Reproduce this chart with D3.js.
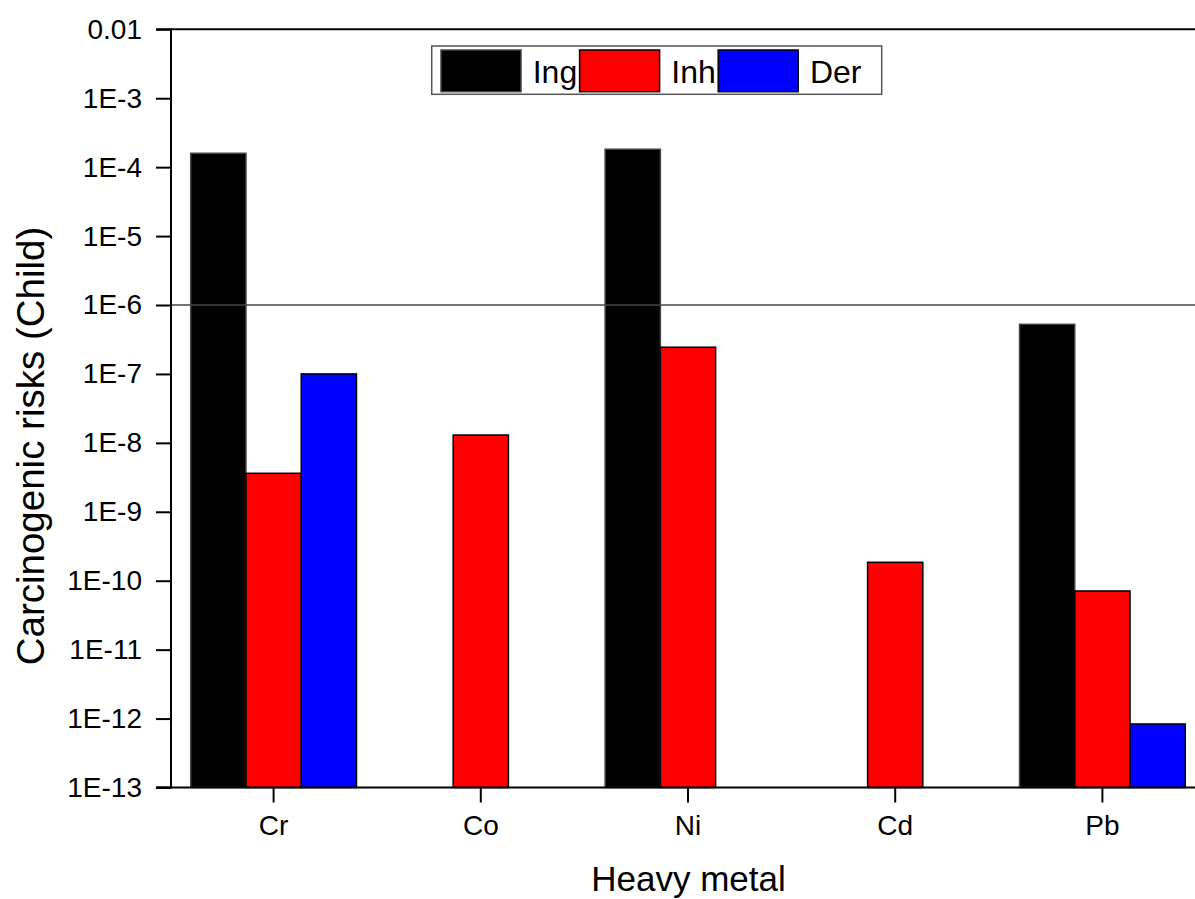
<!DOCTYPE html>
<html>
<head>
<meta charset="utf-8">
<script src="https://cdn.jsdelivr.net/npm/d3@7"></script>
<style>
  body { margin: 0; background: #fff; }
  svg { display: block; font-family: "Liberation Sans", Arial, sans-serif; }
</style>
</head>
<body>
<div id="graphicContainer"></div>
<script>
// values (child carcinogenic risk, log scale)
var metals = ["Cr", "Co", "Ni", "Cd", "Pb"];
var series = ["Ing", "Inh", "Der"];
var ingValues = [1.59e-4, null, 1.82e-4, null, 5.25e-7];
var inhValues = [3.62e-9, 1.30e-8, 2.44e-7, 1.85e-10, 7.1e-11];
var derValues = [1.0e-7, null, null, null, 8.35e-13];
var yTicks = [1e-2, 1e-3, 1e-4, 1e-5, 1e-6, 1e-7, 1e-8, 1e-9, 1e-10, 1e-11, 1e-12, 1e-13];
var refLine = 1e-6;

var colors = d3.scaleOrdinal().domain(series).range(["#000000", "#ff0000", "#0000ff"]);

var data = [];
metals.forEach(function(m, i) {
	data.push({metal: m, key: "Ing", value: ingValues[i]});
	data.push({metal: m, key: "Inh", value: inhValues[i]});
	data.push({metal: m, key: "Der", value: derValues[i]});
});
data = data.filter(d => d.value != null);

var width = 1195, height = 899;
var margin = {top: 29.3, left: 171, bottom: 111.5};
var plotRight = 1206;

var svg = d3.select("#graphicContainer").append("svg")
	.attr("width", width)
	.attr("height", height);

var x = d3.scaleBand()
	.domain(metals)
	.range([170, plotRight])
	.padding(0);

var groupWidth = x.bandwidth() * 0.8;
var x1 = d3.scaleBand()
	.domain(series)
	.range([-groupWidth / 2, groupWidth / 2]);

var y = d3.scaleLog()
	.domain([1e-13, 1e-2])
	.range([height - margin.bottom, margin.top]);

function fmt(v) {
	if (v == 1e-2) return "0.01";
	return "1E" + Math.round(Math.log10(v));
}

// bars
svg.append("g")
	.selectAll("rect")
	.data(data)
	.enter()
	.append("rect")
	.attr("x", d => x(d.metal) + x.bandwidth() / 2 + x1(d.key))
	.attr("width", x1.bandwidth())
	.attr("y", d => y(d.value))
	.attr("height", d => y(1e-13) - y(d.value))
	.attr("fill", d => colors(d.key))
	.attr("stroke", d => d.key == "Ing" ? "#444" : "#000")
	.attr("stroke-width", 1.5);

// 1E-6 reference line
svg.append("line")
	.attr("x1", margin.left)
	.attr("x2", plotRight)
	.attr("y1", y(refLine))
	.attr("y2", y(refLine))
	.attr("stroke", "#444")
	.attr("stroke-width", 1.3);

// frame top / right
svg.append("path")
	.attr("d", "M" + margin.left + "," + y(1e-2) + "H" + plotRight + "V" + y(1e-13))
	.attr("fill", "none")
	.attr("stroke", "#000")
	.attr("stroke-width", 2);

var yAxis = svg.append("g")
	.attr("transform", "translate(" + margin.left + ",0)")
	.call(d3.axisLeft(y).tickValues(yTicks).tickFormat(fmt).tickSize(15).tickPadding(14));

var xAxis = svg.append("g")
	.attr("transform", "translate(0," + y(1e-13) + ")")
	.call(d3.axisBottom(x).tickSize(15).tickPadding(13).tickSizeOuter(0));

[yAxis, xAxis].forEach(function(a) {
	a.select(".domain").attr("stroke", "#000").attr("stroke-width", 2);
	a.selectAll(".tick line").attr("stroke", "#000").attr("stroke-width", 2);
	a.selectAll(".tick text")
		.attr("fill", "#000")
		.style("font-size", "28px")
		.style("font-family", "Liberation Sans, Arial, sans-serif");
});
yAxis.select(".domain").attr("d", "M-15," + y(1e-2) + "H0V" + y(1e-13) + "H-15");
xAxis.select(".domain").attr("d", "M" + (margin.left - 15) + ",0H" + plotRight);

// axis titles
svg.append("text")
	.attr("transform", "translate(44,446) rotate(-90)")
	.attr("text-anchor", "middle")
	.style("font-size", "38.5px")
	.text("Carcinogenic risks (Child)");

svg.append("text")
	.attr("x", (margin.left + plotRight) / 2)
	.attr("y", 891)
	.attr("text-anchor", "middle")
	.style("font-size", "35px")
	.text("Heavy metal");

// legend
var legend = svg.append("g");
legend.append("rect")
	.attr("x", 431.7)
	.attr("y", 46)
	.attr("width", 450)
	.attr("height", 48.3)
	.attr("fill", "#fff")
	.attr("stroke", "#555")
	.attr("stroke-width", 1.5);

var items = legend.selectAll("g.item")
	.data(series)
	.enter()
	.append("g")
	.attr("class", "item")
	.attr("transform", (d, i) => "translate(" + (441 + i * 138.6) + ",50)");

items.append("rect")
	.attr("width", 80)
	.attr("height", 41.7)
	.attr("fill", d => colors(d))
	.attr("stroke", d => d == "Ing" ? "#444" : "#000")
	.attr("stroke-width", 1.5);

items.append("text")
	.attr("x", 91.7)
	.attr("y", 33)
	.style("font-size", "32px")
	.text(d => d);
</script>
</body>
</html>
